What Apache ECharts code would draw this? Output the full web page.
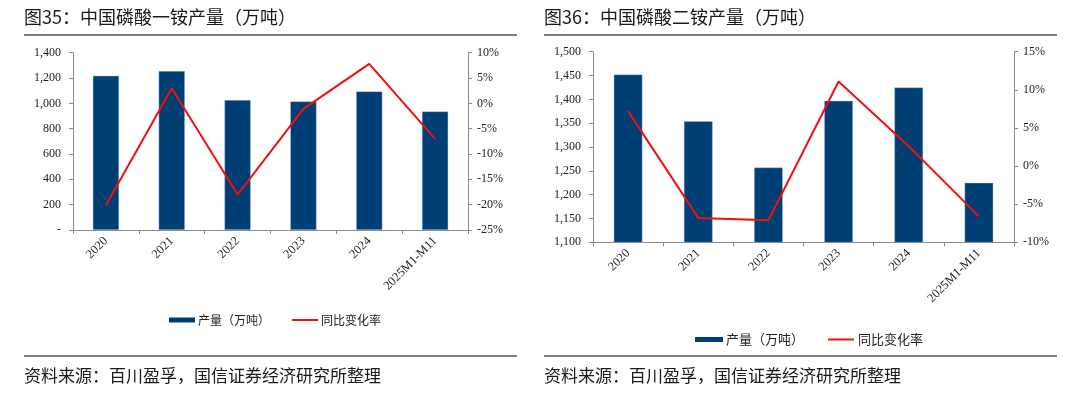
<!DOCTYPE html>
<html>
<head>
<meta charset="utf-8">
<script src="https://cdn.jsdelivr.net/npm/echarts@6/dist/echarts.min.js"></script>
<style>
html,body{margin:0;padding:0;background:#fff;}
#c{width:1080px;height:394px;}
</style>
</head>
<body>
<div id="c"></div>
<script>
// ---- data ----
const categories = ['2020', '2021', '2022', '2023', '2024', '2025M1-M11'];
const mapOutput = [1218, 1255, 1026, 1016, 1095, 937];
const mapYoY = [-20.1, 3.0, -18.0, -1.1, 7.8, -7.0];
const dapOutput = [1452, 1354, 1257, 1397, 1425, 1225];
const dapYoY = [7.2, -6.8, -7.1, 11.1, 2.6, -6.6];
const seriesNames = ['产量（万吨）', '同比变化率'];
const titles = ['图35：中国磷酸一铵产量（万吨）', '图36：中国磷酸二铵产量（万吨）'];
const sourceText = '资料来源：百川盈孚，国信证券经济研究所整理';

const BAR = '#003f74';
const RED = '#f01010';
const AX = '#8a8a8a';
const SERIF = '"Liberation Serif","Times New Roman",serif';
const CJK = '"Noto Sans CJK SC","Noto Sans",sans-serif';
const LINE_ICON = 'path://M0,0H26V0.01H0Z M0,1.5H26V3.5H0Z M0,4.99H26V5H0Z';

const chart = echarts.init(document.getElementById('c'), null, {renderer: 'canvas'});

function fmtNum(v) {
  if (v === 0) return '-';
  return v.toLocaleString('en-US');
}
function fmtPct(v) { return v + '%'; }

function yAxisLeft(grid, min, max, interval, margin) {
  return {
    type: 'value', gridIndex: grid, min: min, max: max, interval: interval,
    position: 'left',
    axisLine: {show: true, lineStyle: {color: AX, width: 1}},
    axisTick: {show: true, inside: false, length: 4, lineStyle: {color: AX}},
    splitLine: {show: false},
    axisLabel: {formatter: fmtNum, fontFamily: SERIF, fontSize: 12, color: '#222', margin: margin}
  };
}
function yAxisRight(grid, min, max, interval, margin) {
  return {
    type: 'value', gridIndex: grid, min: min, max: max, interval: interval,
    position: 'right',
    axisLine: {show: true, lineStyle: {color: AX, width: 1}},
    axisTick: {show: true, inside: false, length: 4, lineStyle: {color: AX}},
    splitLine: {show: false},
    axisLabel: {formatter: fmtPct, fontFamily: SERIF, fontSize: 12, color: '#222', margin: margin}
  };
}
function xAxis(grid) {
  return {
    type: 'category', gridIndex: grid, data: categories,
    boundaryGap: true,
    axisLine: {show: true, onZero: false, lineStyle: {color: AX, width: 1}},
    axisTick: {show: true, alignWithLabel: false, length: 4, lineStyle: {color: AX}},
    axisLabel: {rotate: 45, fontFamily: SERIF, fontSize: 12.5, color: '#222', margin: 9, interval: 0}
  };
}

function legendData() {
  return [
    {name: seriesNames[0], icon: 'rect', itemStyle: {borderWidth: 0, color: BAR}},
    {name: seriesNames[1], icon: LINE_ICON, itemStyle: {color: RED, borderWidth: 0}}
  ];
}

const option = {
  animation: false,
  backgroundColor: '#fff',
  grid: [
    {left: 73, right: 612, top: 52.7, bottom: 164, containLabel: false},
    {left: 593, right: 66, top: 51.7, bottom: 151.7, containLabel: false}
  ],
  xAxis: [xAxis(0), xAxis(1)],
  yAxis: [
    yAxisLeft(0, 0, 1400, 200, 12),
    yAxisRight(0, -25, 10, 5, 9),
    yAxisLeft(1, 1100, 1500, 50, 12),
    yAxisRight(1, -10, 15, 5, 9)
  ],
  legend: [
    {
      left: 164, top: 309, itemWidth: 26, itemHeight: 5, itemGap: 22,
      textStyle: {fontFamily: CJK, fontSize: 12, color: '#222', padding: [0, 0, 0, -2]},
      data: legendData()
    },
    {
      left: 690, top: 328, itemWidth: 28, itemHeight: 5, itemGap: 24,
      textStyle: {fontFamily: CJK, fontSize: 13, color: '#222', padding: [0, 0, 0, -2]},
      data: legendData()
    }
  ],
  series: [
    {
      name: seriesNames[0], type: 'bar', xAxisIndex: 0, yAxisIndex: 0, data: mapOutput,
      barWidth: '40%', itemStyle: {color: BAR, borderColor: 'rgba(170,195,225,0.7)', borderWidth: 0.6}
    },
    {
      name: seriesNames[1], type: 'line', xAxisIndex: 0, yAxisIndex: 1, data: mapYoY,
      symbol: 'none', showSymbol: false, lineStyle: {color: RED, width: 2}, itemStyle: {color: RED}
    },
    {
      name: seriesNames[0], type: 'bar', xAxisIndex: 1, yAxisIndex: 2, data: dapOutput,
      barWidth: '41%', itemStyle: {color: BAR, borderColor: 'rgba(170,195,225,0.7)', borderWidth: 0.6}
    },
    {
      name: seriesNames[1], type: 'line', xAxisIndex: 1, yAxisIndex: 3, data: dapYoY,
      symbol: 'none', showSymbol: false, lineStyle: {color: RED, width: 2}, itemStyle: {color: RED}
    }
  ],
  graphic: [
    {type: 'text', left: 24, top: 8, style: {text: titles[0], font: '18px ' + CJK, fill: '#1a1a1a'}},
    {type: 'text', left: 544, top: 8, style: {text: titles[1], font: '18px ' + CJK, fill: '#1a1a1a'}},
    {type: 'line', shape: {x1: 24, y1: 35, x2: 517, y2: 35}, style: {stroke: '#555', lineWidth: 1.5}},
    {type: 'line', shape: {x1: 544, y1: 35, x2: 1057, y2: 35}, style: {stroke: '#555', lineWidth: 1.5}},
    {type: 'line', shape: {x1: 24, y1: 356, x2: 517, y2: 356}, style: {stroke: '#555', lineWidth: 1.5}},
    {type: 'line', shape: {x1: 544, y1: 356, x2: 1057, y2: 356}, style: {stroke: '#555', lineWidth: 1.5}},
    {type: 'text', left: 24, top: 367, style: {text: sourceText, font: '17px ' + CJK, fill: '#1a1a1a'}},
    {type: 'text', left: 544, top: 367, style: {text: sourceText, font: '17px ' + CJK, fill: '#1a1a1a'}}
  ]
};
chart.setOption(option);
</script>
</body>
</html>
